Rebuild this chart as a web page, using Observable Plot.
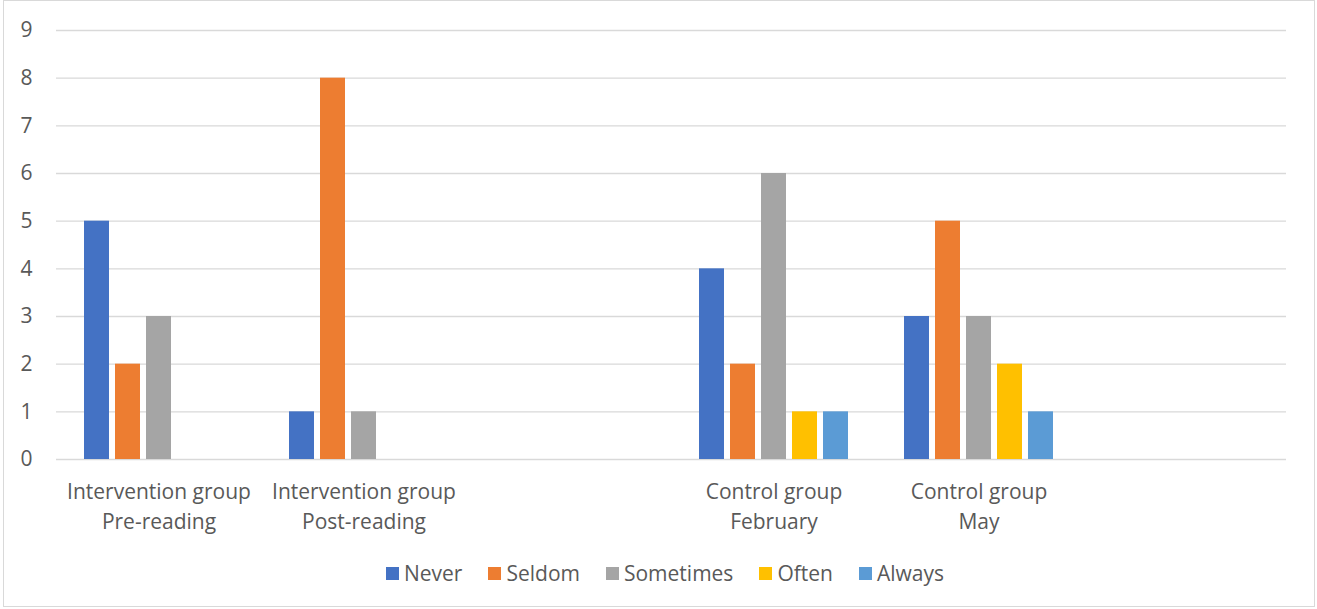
<!DOCTYPE html>
<html>
<head>
<meta charset="utf-8">
<script src="https://cdn.jsdelivr.net/npm/d3@7"></script>
<script src="https://cdn.jsdelivr.net/npm/@observablehq/plot@0.6"></script>
<style>
  html, body { margin: 0; padding: 0; background: #fff; }
  #frame {
    position: absolute; left: 3px; top: 0;
    width: 1310px; height: 605px;
    border: 1px solid #d9d9d9; background: #fff;
    font-family: "Open Sans", Lato, sans-serif;
  }
  #chart { position: absolute; left: 0; top: 0; }
  #legend {
    position: absolute; left: 12px; right: 0; top: 558px;
    display: flex; justify-content: center; gap: 26px;
    font-size: 21px; color: #595959; line-height: 28px;
  }
  .item { display: flex; align-items: center; gap: 5px; }
  .sw { width: 13px; height: 13px; display: inline-block; }
</style>
</head>
<body>
<div id="frame">
  <div id="chart"></div>
  <div id="legend"></div>
</div>
<script>
// Survey groups along the x axis; the two blank slots keep the empty cluster spacing.
const categories = [
  "Intervention group\nPre-reading",
  "Intervention group\nPost-reading",
  "",
  "Control group\nFebruary",
  "Control group\nMay",
  " "
];
const series = ["Never", "Seldom", "Sometimes", "Often", "Always"];
const colors = ["#4472C4", "#ED7D31", "#A5A5A5", "#FFC000", "#5B9BD5"];

// Counts per answer, one value per group (blank slots hold no answers)
const never     = [5, 1, 0, 4, 3, 0];
const seldom    = [2, 8, 0, 2, 5, 0];
const sometimes = [3, 1, 0, 6, 3, 0];
const often     = [0, 0, 0, 1, 2, 0];
const always    = [0, 0, 0, 1, 1, 0];

const yTicks = [0, 1, 2, 3, 4, 5, 6, 7, 8, 9];

const valuesBySeries = [never, seldom, sometimes, often, always];
const rows = series.flatMap((s, i) =>
  categories.map((g, j) => ({group: g, series: s, value: valuesBySeries[i][j]}))
);

const chart = Plot.plot({
  width: 1310,
  height: 548,
  marginLeft: 51,
  marginRight: 27,
  marginTop: 29,
  marginBottom: 90,
  style: {fontFamily: "'Open Sans', Lato, sans-serif", fontSize: "21px", color: "#595959", background: "transparent"},
  fx: {domain: categories, padding: 0, label: null},
  x: {domain: series, paddingInner: 0.2, paddingOuter: 0.86, axis: null},
  y: {domain: [0, 9], label: null},
  color: {domain: series, range: colors},
  marks: [
    Plot.gridY(yTicks, {stroke: "#d9d9d9", strokeOpacity: 1, strokeWidth: 1.3}),
    Plot.axisY(yTicks, {tickSize: 0, tickPadding: 24, label: null, fontSize: 21}),
    Plot.axisFx({anchor: "bottom", tickSize: 0, tickPadding: 19, lineHeight: 1.4, label: null, fontSize: 21}),
    Plot.barY(rows, {fx: "group", x: "series", y: "value", fill: "series"})
  ]
});
document.getElementById("chart").appendChild(chart);

// Legend row under the chart
const legend = document.getElementById("legend");
series.forEach((s, i) => {
  const item = document.createElement("div");
  item.className = "item";
  const sw = document.createElement("span");
  sw.className = "sw";
  sw.style.background = colors[i];
  const label = document.createElement("span");
  label.textContent = s;
  item.appendChild(sw);
  item.appendChild(label);
  legend.appendChild(item);
});
</script>
</body>
</html>
